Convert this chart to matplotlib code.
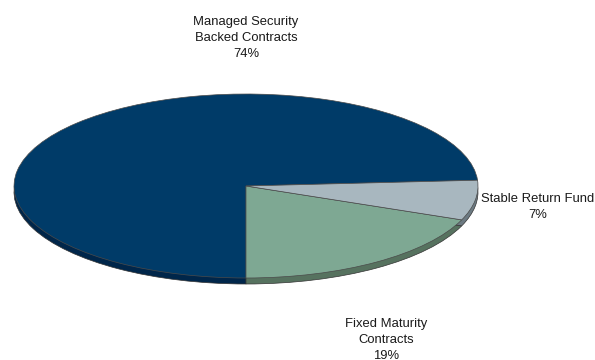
import matplotlib.pyplot as plt

plt.rcParams['font.family'] = ['Liberation Sans', 'DejaVu Sans']

# fund allocation shares (percent)
labels = ['Managed Security\nBacked Contracts', 'Fixed Maturity\nContracts', 'Stable Return Fund']
shares = [74, 19, 7]
colors = ['#003b68', '#7ea893', '#a8b7bf']
rim_colors = ['#00264a', '#56725f', '#6c7a82']

fig = plt.figure(figsize=(5.95, 3.6), dpi=100)
ax = fig.add_axes([0, 0, 1, 1])

# pie is a unit circle in data space, squashed into an ellipse by the limits
cx, cy, rx, ry = 246, 186, 232, 92
W, H = 595, 360

start = 270 - shares[0] / 100 * 360  # so that Fixed Maturity starts straight down

# thin side wall: darker copy shifted down
depth = 6 / ry
ax.pie(shares, colors=rim_colors, startangle=start, counterclock=True,
       center=(0, -depth), radius=1, frame=False,
       wedgeprops=dict(edgecolor='#333333', linewidth=0.5))
# top face
ax.pie(shares, colors=colors, startangle=start, counterclock=True,
       center=(0, 0), radius=1, frame=False,
       wedgeprops=dict(edgecolor='#4a4a4a', linewidth=0.5))

ax.set_xlim(-cx / rx, (W - cx) / rx)
ax.set_ylim((cy - H) / ry, cy / ry)
ax.set_aspect('auto')
ax.axis('off')

def px(x, y):
    return ((x - cx) / rx, (cy - y) / ry)

lab_pos = [(246, 38), (386, 340), (538, 207)]
for lab, s, (x, y) in zip(labels, shares, lab_pos):
    ax.text(*px(x, y), f'{lab}\n{s}%', ha='center', va='center',
            fontsize=9.4, color='#1a1a1a', linespacing=1.45)

fig.savefig('out.png', dpi=100)
